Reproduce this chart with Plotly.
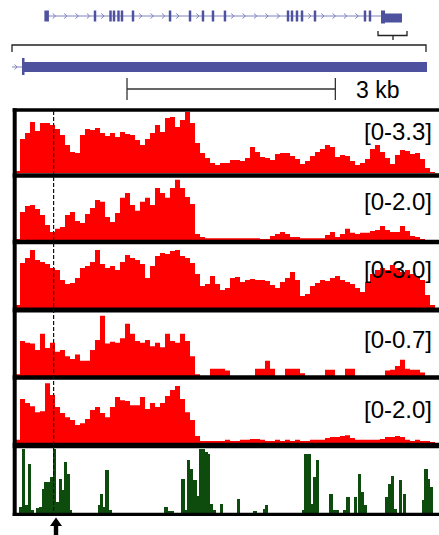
import numpy as np
import plotly.graph_objects as go

W, H = 439, 535
BIN_BP = 72  # bp per signal bin

# ---------------- data ----------------
track_labels = ["[0-3.3]", "[0-2.0]", "[0-3.0]", "[0-0.7]", "[0-2.0]"]
track_max = [3.3, 2.0, 3.0, 0.7, 2.0]

sig1 = [0.11, 1.84, 2.16, 2.76, 2.27, 2.71, 2.71, 2.60, 2.38, 2.06,
        1.52, 1.14, 1.08, 2.06, 2.38, 2.33, 2.43, 2.16, 2.00, 2.16,
        1.95, 2.22, 2.11, 2.06, 1.79, 1.52, 1.84, 2.16, 2.60, 2.22,
        2.98, 3.03, 2.49, 2.87, 3.30, 2.71, 1.62, 1.08, 0.81, 0.54,
        0.43, 0.54, 0.54, 0.70, 0.70, 0.65, 0.81, 1.41, 1.14, 0.87,
        0.81, 0.70, 1.03, 1.08, 1.08, 0.92, 0.76, 0.49, 0.65, 0.92,
        1.14, 1.30, 1.52, 1.41, 0.87, 0.97, 0.92, 0.65, 0.43, 0.54,
        0.76, 1.30, 1.52, 1.14, 0.81, 0.49, 0.97, 1.24, 1.19, 1.03,
        1.08, 0.76, 0.27, 0.05, 0.00]

sig2 = [0.03, 0.90, 1.10, 1.13, 1.00, 0.81, 0.48, 0.26, 0.36, 0.42,
        0.81, 0.90, 0.61, 0.55, 0.84, 1.03, 1.29, 1.23, 0.74, 0.58,
        0.87, 1.36, 1.52, 1.13, 0.94, 1.23, 1.36, 1.13, 1.68, 1.52,
        1.36, 1.68, 1.94, 1.68, 1.39, 1.16, 0.19, 0.10, 0.06, 0.06,
        0.06, 0.06, 0.06, 0.06, 0.06, 0.06, 0.06, 0.06, 0.06, 0.03,
        0.03, 0.13, 0.19, 0.26, 0.19, 0.10, 0.10, 0.06, 0.06, 0.06,
        0.06, 0.06, 0.16, 0.26, 0.10, 0.19, 0.36, 0.23, 0.19, 0.23,
        0.23, 0.29, 0.32, 0.45, 0.32, 0.26, 0.26, 0.45, 0.29, 0.13,
        0.10, 0.03, 0.00, 0.00, 0.00]

sig3 = [0.14, 2.11, 2.34, 2.72, 2.25, 2.16, 2.06, 1.88, 1.78, 1.31,
        1.13, 1.17, 1.41, 1.88, 1.97, 2.16, 2.72, 2.06, 1.88, 1.97,
        1.78, 2.16, 2.49, 2.34, 2.25, 2.06, 1.41, 1.97, 2.44, 2.58,
        2.53, 2.67, 2.72, 2.44, 2.34, 2.11, 1.59, 1.03, 1.13, 1.50,
        1.13, 0.84, 0.94, 1.41, 1.45, 1.22, 1.31, 1.36, 1.31, 1.31,
        1.27, 1.08, 0.94, 1.22, 1.41, 1.69, 1.31, 0.56, 0.66, 1.03,
        1.17, 1.31, 1.27, 1.41, 1.50, 1.31, 1.22, 1.13, 0.94, 0.75,
        1.22, 1.59, 1.78, 1.88, 1.78, 2.02, 1.88, 1.69, 1.78, 1.59,
        1.50, 1.31, 0.61, 0.14, 0.00]

sig4 = [0.02, 0.39, 0.37, 0.36, 0.29, 0.47, 0.31, 0.37, 0.27, 0.29,
        0.22, 0.19, 0.24, 0.17, 0.17, 0.29, 0.40, 0.67, 0.36, 0.38,
        0.37, 0.42, 0.58, 0.47, 0.39, 0.37, 0.40, 0.33, 0.37, 0.32,
        0.47, 0.39, 0.37, 0.47, 0.39, 0.22, 0.02, 0.00, 0.00, 0.08,
        0.08, 0.08, 0.06, 0.00, 0.00, 0.00, 0.00, 0.00, 0.08, 0.08,
        0.17, 0.08, 0.00, 0.00, 0.08, 0.08, 0.08, 0.03, 0.00, 0.00,
        0.00, 0.00, 0.07, 0.07, 0.00, 0.00, 0.08, 0.08, 0.00, 0.00,
        0.00, 0.00, 0.00, 0.00, 0.06, 0.07, 0.11, 0.18, 0.08, 0.07,
        0.07, 0.04, 0.00, 0.00, 0.00]

sig5 = [0.10, 1.40, 1.27, 1.17, 0.98, 1.01, 1.90, 1.52, 1.14, 0.95,
        0.82, 0.73, 0.57, 0.63, 0.76, 1.05, 1.14, 0.95, 0.82, 1.14,
        1.46, 1.36, 1.33, 1.20, 1.20, 1.46, 1.08, 1.27, 1.14, 1.27,
        1.49, 1.68, 1.81, 1.40, 0.98, 0.73, 0.22, 0.06, 0.06, 0.06,
        0.06, 0.06, 0.10, 0.06, 0.06, 0.10, 0.10, 0.13, 0.13, 0.10,
        0.06, 0.06, 0.10, 0.06, 0.10, 0.06, 0.10, 0.06, 0.06, 0.10,
        0.10, 0.10, 0.16, 0.19, 0.19, 0.22, 0.25, 0.16, 0.10, 0.10,
        0.10, 0.10, 0.10, 0.13, 0.19, 0.19, 0.22, 0.19, 0.10, 0.06,
        0.10, 0.06, 0.06, 0.03, 0.00]

tracks = [sig1, sig2, sig3, sig4, sig5]

# green track (sparse): positions in bp, relative signal
green_pos = [50, 86, 137, 173, 209, 295, 331, 374, 410, 446, 490, 533, 576, 619,
             655, 691, 727, 763, 1174, 1210, 1253, 1289, 1332, 2138, 2182, 2225,
             2383, 2419, 2462, 2506, 2556, 2599, 2635, 2678, 2714, 2750, 2794,
             2837, 2938, 3182, 3420, 3550, 3586, 4118, 4154, 4198, 4234, 4277,
             4320, 4514, 4558, 4601, 4716, 4759, 4867, 4918, 4961, 5004, 5314,
             5357, 5400, 5443, 5515, 5566, 5846, 5882, 5918, 5962]
green_val = [0.09, 0.98, 0.12, 0.75, 0.05, 0.08, 0.09, 0.37, 0.48, 0.48, 0.55, 0.98,
             0.17, 0.52, 0.35, 0.78, 0.60, 0.05, 0.12, 0.29, 0.09, 0.66, 0.05, 0.09,
             0.03, 0.03, 0.52, 0.05, 0.82, 0.68, 0.51, 0.26, 0.98, 0.98, 0.94, 0.91,
             0.14, 0.05, 0.14, 0.22, 0.03, 0.06, 0.12, 0.05, 0.91, 0.91, 0.14, 0.55,
             0.82, 0.29, 0.05, 0.05, 0.05, 0.25, 0.25, 0.60, 0.32, 0.12, 0.25, 0.45,
             0.57, 0.06, 0.51, 0.29, 0.20, 0.68, 0.52, 0.40]

# full gene model (kb from gene start)
exon_kb = [10.53, 13.79, 14.53, 15.47, 16.21, 18.53, 26.32, 30.53, 33.26, 35.37,
           37.89, 51.16, 52.00, 53.05, 54.11, 56.84, 67.37, 68.42]
first_exon_kb = 0.32
last_exon_kb = (70.74, 75.16)

# zoomed region feature (bp)
utr_start, utr_end = 65, 5897
marked_pos = 520          # dashed line / arrow position (bp)
scale_start, scale_len = 1577, 3000

# ---------------- layout helpers ----------------
def P(py):
    return 1 - py / H

def X(px):
    return px / W

panel_top = [112, 178, 244, 313, 380, 448]
panel_bot = [173, 240, 308, 376, 443, 513]
label_y = [131.5, 201.5, 270, 339, 409]

RED = "#ff0000"
GREEN = "#0e4c0e"
BLUE = "#4e519e"
BLUE_LIGHT = "#7f82c0"
FONT = "Liberation Sans, Arial, sans-serif"

fig = go.Figure()

n = len(sig1)
edges = np.arange(n + 1) * BIN_BP - BIN_BP / 2
for k, sig in enumerate(tracks):
    yname = "y" if k == 0 else f"y{k + 1}"
    fig.add_trace(go.Scatter(
        x=edges, y=list(sig) + [sig[-1]], mode="lines",
        line=dict(width=0, shape="hv", color=RED),
        fill="tozeroy", fillcolor=RED, xaxis="x", yaxis=yname,
        hoverinfo="skip", showlegend=False))

fig.add_trace(go.Bar(
    x=green_pos, y=green_val, width=44, marker=dict(color=GREEN, line=dict(width=0)),
    xaxis="x", yaxis="y6", hoverinfo="skip", showlegend=False))

# dummy trace to instantiate gene axis
fig.add_trace(go.Scatter(x=[0], y=[0], xaxis="x2", yaxis="y7", mode="markers",
                         marker=dict(opacity=0), hoverinfo="skip", showlegend=False))

layout = dict(
    width=W, height=H, margin=dict(l=0, r=0, t=0, b=0),
    paper_bgcolor="white", plot_bgcolor="rgba(0,0,0,0)",
    barmode="overlay", bargap=0, showlegend=False, hovermode=False,
    xaxis=dict(domain=[0, 1], range=[-252, 6069.6], visible=False, fixedrange=True),
    xaxis2=dict(domain=[0, 1], range=[-45 / 4.75, 394 / 4.75], visible=False,
                anchor="y7", fixedrange=True),
    yaxis7=dict(domain=[P(100), 1], range=[0, 1], visible=False, anchor="x2"),
)
ranges = track_max + [1.0]
for k in range(6):
    key = "yaxis" if k == 0 else f"yaxis{k + 1}"
    layout[key] = dict(domain=[P(panel_bot[k]), P(panel_top[k])], range=[0, ranges[k]],
                       visible=False, anchor="x", fixedrange=True)
fig.update_layout(**layout)

shapes = []
# panel borders
border_y = [110, 175.5, 242, 310, 377.5, 445.5, 514.3]
border_w = [3.3, 4.5, 4.3, 5, 4.5, 5.5, 3.3]
for yy, ww in zip(border_y, border_w):
    shapes.append(dict(type="line", xref="paper", yref="paper", x0=X(12.7), x1=1,
                       y0=P(yy), y1=P(yy), line=dict(color="black", width=ww), layer="above"))
shapes.append(dict(type="line", xref="paper", yref="paper", x0=X(14.7), x1=X(14.7),
                   y0=P(108.3), y1=P(516), line=dict(color="black", width=4), layer="above"))
# dashed marker line
shapes.append(dict(type="line", xref="x", yref="paper", x0=marked_pos, x1=marked_pos,
                   y0=P(111), y1=P(513), line=dict(color="#111", width=1.2, dash="4px,2px"),
                   layer="above"))
# arrow
shapes.append(dict(type="path", xref="paper", yref="paper",
                   path=(f"M{X(56)},{P(517.5)} L{X(62)},{P(526)} L{X(58.2)},{P(526)} "
                         f"L{X(58.2)},{P(535)} L{X(53.8)},{P(535)} L{X(53.8)},{P(526)} "
                         f"L{X(50)},{P(526)} Z"),
                   fillcolor="black", line=dict(width=0), layer="above"))

# ---- top gene model ----
gy = 16
shapes.append(dict(type="line", xref="x2", yref="paper", x0=first_exon_kb, x1=last_exon_kb[0],
                   y0=P(gy), y1=P(gy), line=dict(color=BLUE_LIGHT, width=1)))
all_ex = [first_exon_kb] + exon_kb + [last_exon_kb[0]]
for a, b in zip(all_ex[:-1], all_ex[1:]):
    for c in np.arange(a + 1.6, b - 1.0, 2.4):
        shapes.append(dict(type="path", xref="x2", yref="paper",
                           path=f"M{c - 0.3},{P(gy - 2.5)} L{c + 0.3},{P(gy)} L{c - 0.3},{P(gy + 2.5)}",
                           line=dict(color=BLUE_LIGHT, width=1)))
shapes.append(dict(type="rect", xref="x2", yref="paper", x0=first_exon_kb - 0.45,
                   x1=first_exon_kb + 0.5, y0=P(21.5), y1=P(10.5),
                   fillcolor=BLUE, line=dict(width=0)))
for e in exon_kb:
    shapes.append(dict(type="rect", xref="x2", yref="paper", x0=e - 0.26, x1=e + 0.26,
                       y0=P(21.5), y1=P(10.5), fillcolor=BLUE, line=dict(width=0)))
shapes.append(dict(type="rect", xref="x2", yref="paper", x0=last_exon_kb[0],
                   x1=last_exon_kb[0] + 0.85, y0=P(23.5), y1=P(10.5),
                   fillcolor=BLUE, line=dict(width=0)))
shapes.append(dict(type="rect", xref="x2", yref="paper", x0=last_exon_kb[0],
                   x1=last_exon_kb[1], y0=P(22.5), y1=P(13.5),
                   fillcolor=BLUE, line=dict(width=0)))

# small bracket under last exon and the large zoom bracket
BR = "#222"
shapes.append(dict(type="path", xref="paper", yref="paper",
                   path=f"M{X(378)},{P(31)} L{X(378)},{P(35.5)} L{X(407)},{P(35.5)} L{X(407)},{P(31)}",
                   line=dict(color=BR, width=1.3)))
shapes.append(dict(type="line", xref="paper", yref="paper", x0=X(393), x1=X(393),
                   y0=P(35.5), y1=P(40), line=dict(color=BR, width=1.3)))
shapes.append(dict(type="path", xref="paper", yref="paper",
                   path=f"M{X(12)},{P(52)} L{X(12)},{P(45)} L{X(426)},{P(45)} L{X(426)},{P(52)}",
                   line=dict(color=BR, width=1.3)))

# lower (zoomed) gene feature
shapes.append(dict(type="line", xref="x", yref="paper", x0=-79, x1=utr_start,
                   y0=P(67), y1=P(67), line=dict(color=BLUE_LIGHT, width=1)))
shapes.append(dict(type="path", xref="x", yref="paper",
                   path=f"M{-40},{P(64.5)} L{-5},{P(67)} L{-40},{P(69.5)}",
                   line=dict(color=BLUE_LIGHT, width=1)))
shapes.append(dict(type="rect", xref="x", yref="paper", x0=utr_start, x1=utr_start + 36,
                   y0=P(75), y1=P(58), fillcolor=BLUE, line=dict(width=0)))
shapes.append(dict(type="rect", xref="x", yref="paper", x0=utr_start, x1=utr_end,
                   y0=P(72), y1=P(62), fillcolor=BLUE, line=dict(width=0)))

# scale bar
shapes.append(dict(type="line", xref="x", yref="paper", x0=scale_start, x1=scale_start + scale_len,
                   y0=P(89), y1=P(89), line=dict(color="#333", width=1.3)))
for xx in (scale_start, scale_start + scale_len):
    shapes.append(dict(type="line", xref="x", yref="paper", x0=xx, x1=xx,
                       y0=P(78), y1=P(100), line=dict(color="#333", width=1.3)))

fig.update_layout(shapes=shapes)

annotations = []
for lab, yy in zip(track_labels, label_y):
    annotations.append(dict(text=lab, xref="paper", yref="paper", x=X(434), y=P(yy),
                            xanchor="right", yanchor="middle", showarrow=False,
                            font=dict(family=FONT, size=24, color="black")))
annotations.append(dict(text="3 kb", xref="paper", yref="paper", x=X(354), y=P(90),
                        xanchor="left", yanchor="middle", showarrow=False,
                        font=dict(family=FONT, size=23, color="black")))
fig.update_layout(annotations=annotations)

fig.write_html("out.html", config={"displayModeBar": False, "staticPlot": True},
               post_script="document.body.style.margin='0';document.body.style.overflow='hidden';")
